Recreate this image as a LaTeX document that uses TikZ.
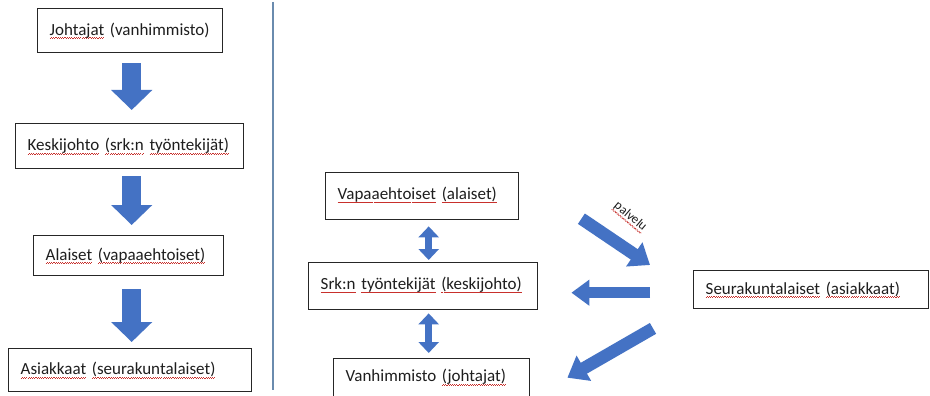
\documentclass[tikz,border=0pt]{standalone}
\usepackage{fontspec}
\setmainfont{Carlito}
\usetikzlibrary{arrows.meta,calc}
\definecolor{arrowblue}{HTML}{4472C4}
\definecolor{sepblue}{HTML}{6A8BAE}
\definecolor{boxline}{HTML}{262626}
\definecolor{txt}{HTML}{1E1E1E}
\definecolor{sqred}{HTML}{C8302C}
\newsavebox\sqbox
\newcommand\sqw[1]{\sbox\sqbox{#1}\rlap{\color{sqred}\xleaders\hbox{\rule[-3.6pt]{1.1pt}{0.7pt}\rule[-2.8pt]{1.1pt}{0.7pt}}\hskip\wd\sqbox}\usebox\sqbox}
\tikzset{
  box/.style={draw=boxline, line width=1.4pt, rectangle, inner xsep=12pt, inner ysep=0pt,
    align=left, text width=#1, text=txt, anchor=north west,
    font=\fontsize{17}{20}\selectfont},
  bigarrow/.style={draw=arrowblue, line width=19pt, -{Triangle[width=40pt,length=20pt]}},
  dblarrow/.style={draw=arrowblue, line width=7.5pt,
    {Triangle[width=20pt,length=11pt]}-{Triangle[width=20pt,length=11pt]}},
  sidearrow/.style={draw=arrowblue, line width=11.5pt, -{Triangle[width=25pt,length=18pt]}},
  diagarrow/.style={draw=arrowblue, line width=12.5pt, -{Triangle[width=28pt,length=19pt]}},
  seprule/.style={draw=sepblue, line width=1.4pt},
  smalllbl/.style={font=\fontsize{13}{15}\selectfont, text=txt, inner sep=0pt}
}
\begin{document}
\begin{tikzpicture}[x=1pt, y=-1pt]
\clip (0,0) rectangle (930,396);
\fill[white] (0,0) rectangle (930,396);

% left column
\node[box=161pt, minimum height=44pt] (b1) at (37,8)
  {\mbox{\raisebox{3pt}{\sqw{Johtajat} (vanhimmisto)}}};
\node[box=204pt, minimum height=45pt] (b2) at (15,123)
  {\mbox{\raisebox{2pt}{\sqw{Keskijohto} \sqw{(srk:n} \sqw{työntekijät)}}}};
\node[box=166pt, minimum height=40pt] (b3) at (33,235)
  {\mbox{\sqw{Alaiset} \sqw{(vapaaehtoiset)}}};
\node[box=219pt, minimum height=43pt] (b4) at (8,348)
  {\mbox{\sqw{Asiakkaat} \sqw{(seurakuntalaiset)}}};

\draw[bigarrow] ($(b1.south)+(1.5,10)$) -- ($(b2.north)+(2,-13)$);
\draw[bigarrow] ($(b2.south)+(2,7)$) -- ($(b3.north)+(3,-10)$);
\draw[bigarrow] ($(b3.south)+(3,13)$) -- ($(b4.north)+(1.5,-6)$);

% separator
\coordinate (septop) at (273,2);
\coordinate (sepbot) at (273,390);
\draw[seprule] (septop) -- (sepbot);

% right part
\node[box=169pt, minimum height=47pt] (r1) at (325,172)
  {\mbox{\raisebox{6pt}{\sqw{Vapaaehtoiset} \sqw{(alaiset)}}}};
\node[box=205pt, minimum height=47pt] (r2) at (308,262)
  {\mbox{\raisebox{6pt}{\sqw{Srk:n} \sqw{työntekijät} \sqw{(keskijohto)}}}};
\node[box=172pt, minimum height=42pt] (r3) at (333,358)
  {\mbox{\raisebox{8pt}{Vanhimmisto \sqw{(johtajat)}}}};
\node[box=211pt, minimum height=38pt] (r4) at (693,270)
  {\mbox{\sqw{Seurakuntalaiset} \sqw{(asiakkaat)}}};

\draw[dblarrow] ($(r1.south)+(6.5,6)$) -- ($(r2.north)+(5.5,-2)$);
\draw[dblarrow] ($(r2.south)+(5.5,3)$) -- ($(r3.north)+(-3,-5)$);

\draw[diagarrow] ($(r1.east)+(62,22.5)$) -- ($(r4.north west)+(-43,-5)$);
\draw[sidearrow] ($(r4.west)+(-43,3)$) -- ($(r2.east)+(33,6.5)$);
\draw[diagarrow] ($(r4.south west)+(-40,19)$) -- ($(r3.east)+(37,-2)$);

\node[smalllbl, rotate=-40] (palvelu) at (630,217) {\sqw{palvelu}};
\end{tikzpicture}
\end{document}
